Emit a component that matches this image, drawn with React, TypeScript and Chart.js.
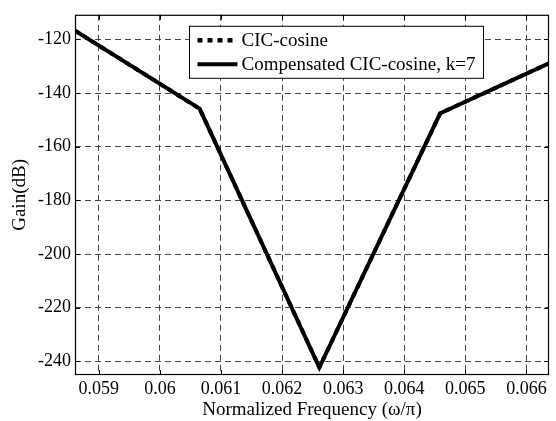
import React, { useEffect, useRef } from 'react';
import { Chart, registerables } from 'chart.js';

Chart.register(...registerables);

const FREQ = [0.05861, 0.06065, 0.06261, 0.06459, 0.06637];
const GAIN_CIC = [-116.7, -145.8, -242.3, -147.5, -128.9];
const GAIN_COMP = [-116.7, -145.8, -242.3, -147.5, -128.9];
const X_TICKS = [0.059, 0.06, 0.061, 0.062, 0.063, 0.064, 0.065, 0.066];
const Y_TICKS = [-240, -220, -200, -180, -160, -140, -120];
const SERIES_LABELS = ['CIC-cosine', 'Compensated CIC-cosine, k=7'];
const X_RANGE = [0.05861, 0.06637];
const Y_RANGE = [-245.1, -110.8];

const FONT = 'Liberation Serif';

const framePlugin = {
  id: 'frame',
  afterDraw(chart: any) {
    const { ctx, chartArea: a, scales } = chart;
    ctx.save();
    ctx.strokeStyle = '#000';
    ctx.lineWidth = 1.2;
    ctx.setLineDash([]);
    ctx.strokeRect(a.left + 0.5, a.top + 0.5, a.right - a.left - 1, a.bottom - a.top - 1);
    const tl = 5;
    ctx.lineWidth = 1;
    ctx.beginPath();
    for (const v of X_TICKS) {
      const x = Math.round(scales.x.getPixelForValue(v)) + 0.5;
      ctx.moveTo(x, a.bottom);
      ctx.lineTo(x, a.bottom - tl);
      ctx.moveTo(x, a.top);
      ctx.lineTo(x, a.top + tl);
    }
    for (const v of Y_TICKS) {
      const y = Math.round(scales.y.getPixelForValue(v)) + 0.5;
      ctx.moveTo(a.left, y);
      ctx.lineTo(a.left + tl, y);
      ctx.moveTo(a.right, y);
      ctx.lineTo(a.right - tl, y);
    }
    ctx.stroke();

    // legend
    const bx = a.left + 114.5;
    const by = a.top + 11.5;
    const bw = 294;
    const bh = 52;
    ctx.fillStyle = '#fff';
    ctx.fillRect(bx, by, bw, bh);
    ctx.strokeStyle = '#000';
    ctx.lineWidth = 1;
    ctx.strokeRect(bx, by, bw, bh);
    const rows = [14, 38];
    chart.data.datasets.forEach((ds: any, i: number) => {
      const y = by + rows[i];
      ctx.save();
      ctx.strokeStyle = ds.borderColor;
      ctx.lineWidth = ds.legendWidth;
      ctx.setLineDash(ds.borderDash || []);
      ctx.beginPath();
      ctx.moveTo(bx + 8, y);
      ctx.lineTo(bx + 48, y);
      ctx.stroke();
      ctx.restore();
      ctx.fillStyle = '#000';
      ctx.font = `19px "${FONT}"`;
      ctx.textBaseline = 'middle';
      ctx.textAlign = 'left';
      ctx.fillText(ds.label, bx + 52, y + 1);
    });
    ctx.restore();
  },
};

export default function App() {
  const ref = useRef<HTMLCanvasElement | null>(null);
  useEffect(() => {
    if (!ref.current) return;
    const chart = new Chart(ref.current, {
      type: 'line',
      data: {
        datasets: [
          {
            label: SERIES_LABELS[0],
            data: FREQ.map((f, i) => ({ x: f, y: GAIN_CIC[i] })),
            borderColor: '#000',
            borderWidth: 4,
            borderDash: [5, 5],
            legendWidth: 4.5,
            pointRadius: 0,
            tension: 0,
            fill: false,
          } as any,
          {
            label: SERIES_LABELS[1],
            data: FREQ.map((f, i) => ({ x: f, y: GAIN_COMP[i] })),
            borderColor: '#000',
            borderWidth: 4,
            borderJoinStyle: 'round',
            legendWidth: 4,
            pointRadius: 0,
            tension: 0,
            fill: false,
          } as any,
        ],
      },
      options: {
        responsive: false,
        animation: false,
        layout: { padding: { left: 0, top: 9, right: 7, bottom: 0 } },
        plugins: { legend: { display: false }, tooltip: { enabled: false } },
        scales: {
          x: {
            type: 'linear',
            min: X_RANGE[0],
            max: X_RANGE[1],
            afterBuildTicks: (s: any) => {
              s.ticks = X_TICKS.map((v) => ({ value: v }));
            },
            afterFit: (s: any) => {
              s.height = 46;
            },
            ticks: {
              callback: (v: any) => String(v),
              font: { family: FONT, size: 18 },
              color: '#000',
              padding: 3,
              maxRotation: 0,
              autoSkip: false,
            },
            grid: { color: '#444', lineWidth: 1, drawTicks: false },
            border: { display: false, dash: [6, 4] },
            title: {
              display: true,
              text: 'Normalized Frequency (ω/π)',
              font: { family: FONT, size: 19 },
              color: '#000',
              padding: { top: 0, bottom: 0 },
            },
          },
          y: {
            type: 'linear',
            min: Y_RANGE[0],
            max: Y_RANGE[1],
            afterBuildTicks: (s: any) => {
              s.ticks = Y_TICKS.map((v) => ({ value: v }));
            },
            afterFit: (s: any) => {
              s.width = 75;
            },
            ticks: {
              callback: (v: any) => String(v),
              font: { family: FONT, size: 18 },
              color: '#000',
              padding: 4,
              autoSkip: false,
            },
            grid: { color: '#444', lineWidth: 1, drawTicks: false },
            border: { display: false, dash: [6, 4] },
            title: {
              display: true,
              text: 'Gain(dB)',
              font: { family: FONT, size: 19 },
              color: '#000',
              padding: { top: 9, bottom: 0 },
            },
          },
        },
      },
      plugins: [framePlugin],
    });
    return () => chart.destroy();
  }, []);
  return (
    <div style={{ position: 'absolute', left: 0, top: 0, width: 556, height: 421 }}>
      <canvas ref={ref} width={556} height={421} />
    </div>
  );
}
